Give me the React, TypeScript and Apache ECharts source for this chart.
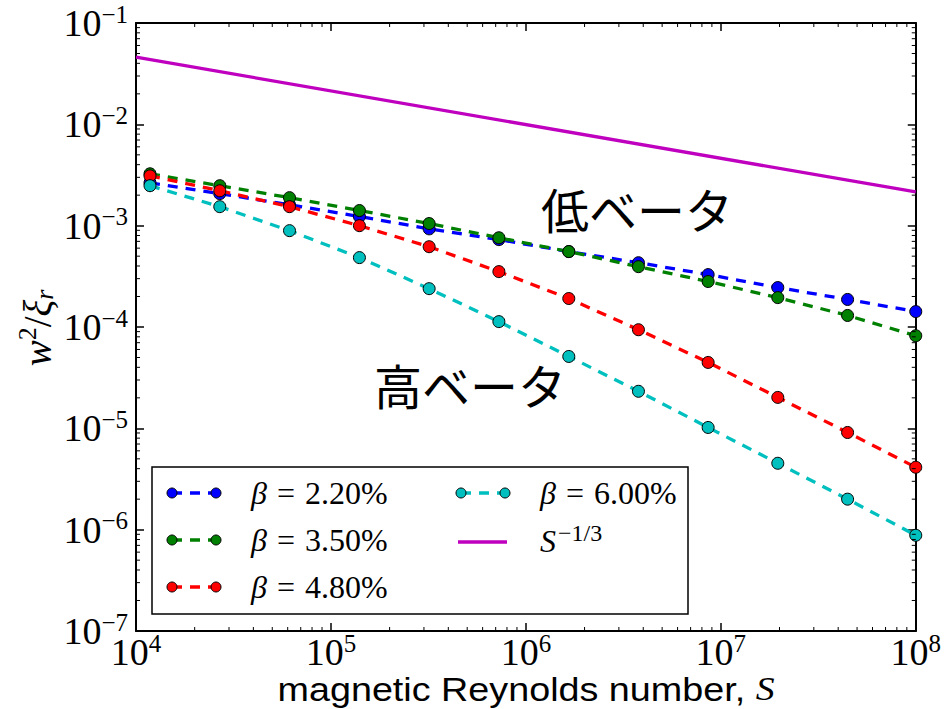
import { useEffect, useRef } from 'react';
import * as echarts from 'echarts';

// Magnetic Reynolds number S at which each run was made
const reynolds = [1.18e4, 2.69e4, 6.13e4, 1.40e5, 3.19e5, 7.27e5, 1.66e6, 3.78e6, 8.61e6, 1.96e7, 4.47e7, 1.0e8];

// w^2 / xi_r for each beta value
const beta220 = [2.65e-3, 2.07e-3, 1.61e-3, 1.23e-3, 9.3e-4, 7.28e-4, 5.55e-4, 4.31e-4, 3.29e-4, 2.45e-4, 1.87e-4, 1.42e-4];
const beta350 = [3.25e-3, 2.48e-3, 1.89e-3, 1.41e-3, 1.05e-3, 7.6e-4, 5.55e-4, 3.94e-4, 2.81e-4, 1.95e-4, 1.30e-4, 8.2e-5];
const beta480 = [3.1e-3, 2.21e-3, 1.54e-3, 1.0e-3, 6.2e-4, 3.52e-4, 1.91e-4, 9.4e-5, 4.47e-5, 2.02e-5, 9.1e-6, 4.13e-6];
const beta600 = [2.48e-3, 1.54e-3, 8.93e-4, 4.84e-4, 2.39e-4, 1.13e-4, 5.12e-5, 2.32e-5, 1.02e-5, 4.52e-6, 2.0e-6, 8.8e-7];

// reference scaling line S^(-1/3)
const scalingS = [1e4, 1e8];
const scalingW = [4.6e-2, 2.15e-3];

const betaLabels = ['2.20%', '3.50%', '4.80%', '6.00%'];
const betaColors = ['#0000ff', '#008000', '#ff0000', '#00bfbf'];
const powerColor = '#bf00bf';

const X_MIN = 1e4;
const X_MAX = 1e8;
const Y_MIN = 1e-7;
const Y_MAX = 1e-1;

const SERIF = 'Liberation Serif, serif';
const SANS = 'Liberation Sans, sans-serif';
const CJK = 'Noto Sans CJK JP, sans-serif';

// full font strings for rich tokens drawn straight by zrender
const serif = (size: number, italic = false) => `${italic ? 'italic ' : ''}${size}px ${SERIF}`;
const sans = (size: number) => `${size}px ${SANS}`;

function minorTicks(lo: number, hi: number): number[] {
  const out: number[] = [];
  for (let e = lo; e < hi; e++) {
    for (let m = 2; m <= 9; m++) out.push(m * Math.pow(10, e));
  }
  return out;
}

function powerLabel(v: number): string {
  const e = Math.round(Math.log10(v));
  const s = e < 0 ? '\u2212' + -e : String(e);
  return `{b|10}{e|${s}}`;
}

const labelRich = {
  b: { fontSize: 38, fontFamily: SERIF, font: serif(38), color: '#000', lineHeight: 28 },
  e: { fontSize: 25, fontFamily: SERIF, font: serif(25), color: '#000', lineHeight: 20, padding: [0, 0, 18, 0] },
};

const DASH = [10, 8];
const LW = 3.3;

export default function App() {
  const ref = useRef<HTMLDivElement>(null);

  useEffect(() => {
    if (!ref.current) return;
    const chart = echarts.init(ref.current, undefined, { renderer: 'svg' });

    const pairs = (ys: number[]) => reynolds.map((x, i) => [x, ys[i]]);
    const betaSets = [beta220, beta350, beta480, beta600];

    const dataSeries = betaSets.map((ys, k) => ({
      type: 'line',
      name: 'beta ' + betaLabels[k],
      data: pairs(ys),
      xAxisIndex: 0,
      yAxisIndex: 0,
      symbol: 'circle',
      symbolSize: 12,
      showSymbol: true,
      lineStyle: { color: betaColors[k], width: LW, type: DASH },
      itemStyle: { color: betaColors[k], borderColor: '#000', borderWidth: 1 },
      z: 3 + k,
      silent: true,
    }));

    const powerSeries = {
      type: 'line',
      name: 'S^-1/3',
      data: scalingS.map((x, i) => [x, scalingW[i]]),
      symbol: 'none',
      lineStyle: { color: powerColor, width: LW },
      z: 8,
      silent: true,
    };

    const tickStyle = { stroke: '#000', lineWidth: 1 };

    const minorX = {
      type: 'custom',
      silent: true,
      clip: false,
      z: 9,
      data: minorTicks(4, 8).map((v) => [v, Y_MIN]),
      renderItem: (_p: any, api: any) => {
        const v = api.value(0);
        const b = api.coord([v, Y_MIN]);
        const t = api.coord([v, Y_MAX]);
        return {
          type: 'group',
          children: [
            { type: 'line', shape: { x1: b[0], y1: b[1], x2: b[0], y2: b[1] - 4 }, style: tickStyle },
            { type: 'line', shape: { x1: t[0], y1: t[1], x2: t[0], y2: t[1] + 4 }, style: tickStyle },
          ],
        };
      },
    };

    const minorY = {
      type: 'custom',
      silent: true,
      clip: false,
      z: 9,
      data: minorTicks(-7, -1).map((v) => [X_MIN, v]),
      renderItem: (_p: any, api: any) => {
        const v = api.value(1);
        const l = api.coord([X_MIN, v]);
        const r = api.coord([X_MAX, v]);
        return {
          type: 'group',
          children: [
            { type: 'line', shape: { x1: l[0], y1: l[1], x2: l[0] + 4, y2: l[1] }, style: tickStyle },
            { type: 'line', shape: { x1: r[0], y1: r[1], x2: r[0] - 4, y2: r[1] }, style: tickStyle },
          ],
        };
      },
    };

    const axisLine = { show: true, onZero: false, lineStyle: { color: '#000', width: 2 } };
    const majorTick = { show: true, inside: true, length: 8, lineStyle: { color: '#000', width: 1.5 } };

    // legend drawn by hand: marker - dash - marker, then the label
    const legendRows = [
      { x: 172, y: 493, color: betaColors[0], text: '{i|β}{q|=}{n|2.20%}' },
      { x: 172, y: 540, color: betaColors[1], text: '{i|β}{q|=}{n|3.50%}' },
      { x: 172, y: 587, color: betaColors[2], text: '{i|β}{q|=}{n|4.80%}' },
      { x: 461, y: 493, color: betaColors[3], text: '{i|β}{q|=}{n|6.00%}' },
    ];
    const legendRich = {
      i: { font: serif(32, true), fontSize: 32, fontFamily: SERIF, fontStyle: 'italic', fill: '#000' },
      q: { font: serif(32), fontSize: 32, fontFamily: SERIF, fill: '#000', padding: [0, 10, 0, 10] },
      n: { font: serif(32), fontSize: 32, fontFamily: SERIF, fill: '#000' },
      e: { font: serif(24), fontSize: 24, fontFamily: SERIF, fill: '#000', padding: [0, 0, 16, 2] },
    };
    const legendEls: any[] = [
      {
        type: 'rect',
        shape: { x: 152, y: 467, width: 536, height: 147 },
        style: { fill: '#fff', stroke: '#000', lineWidth: 1.5 },
        z: 20,
      },
    ];
    legendRows.forEach((r) => {
      legendEls.push({
        type: 'line',
        shape: { x1: r.x, y1: r.y, x2: r.x + 44, y2: r.y },
        style: { stroke: r.color, lineWidth: LW, lineDash: DASH },
        z: 21,
      });
      [r.x, r.x + 44].forEach((cx) =>
        legendEls.push({
          type: 'circle',
          shape: { cx, cy: r.y, r: 5 },
          style: { fill: r.color, stroke: '#000', lineWidth: 1 },
          z: 22,
        })
      );
      legendEls.push({
        type: 'text',
        x: r.x + 79,
        y: r.y,
        style: {
          text: r.text,
          rich: legendRich,
          font: serif(32),
          fill: '#000',
          verticalAlign: 'middle',
          align: 'left',
        },
        z: 22,
      });
    });
    legendEls.push({
      type: 'line',
      shape: { x1: 458, y1: 542, x2: 507, y2: 542 },
      style: { stroke: powerColor, lineWidth: LW },
      z: 21,
    });
    legendEls.push({
      type: 'text',
      x: 540,
      y: 541,
      style: {
        text: '{i|S}{e|\u22121/3}',
        rich: legendRich,
        font: serif(32),
        fill: '#000',
        verticalAlign: 'middle',
        align: 'left',
      },
      z: 22,
    });

    chart.setOption({
      animation: false,
      backgroundColor: '#fff',
      grid: { left: 136, top: 23, width: 782, height: 608, containLabel: false },
      xAxis: [
        {
          type: 'log',
          logBase: 10,
          min: X_MIN,
          max: X_MAX,
          position: 'bottom',
          axisLine,
          axisTick: majorTick,
          splitLine: { show: false },
          axisLabel: {
            show: true,
            margin: 7,
            formatter: powerLabel,
            rich: labelRich,
            fontFamily: SERIF,
            showMinLabel: true,
            showMaxLabel: true,
          },
        },
        {
          type: 'log',
          logBase: 10,
          min: X_MIN,
          max: X_MAX,
          position: 'top',
          axisLine,
          axisTick: majorTick,
          splitLine: { show: false },
          axisLabel: { show: false },
        },
      ],
      yAxis: [
        {
          type: 'log',
          logBase: 10,
          min: Y_MIN,
          max: Y_MAX,
          position: 'left',
          axisLine,
          axisTick: majorTick,
          splitLine: { show: false },
          axisLabel: {
            show: true,
            margin: 8,
            formatter: powerLabel,
            rich: labelRich,
            fontFamily: SERIF,
            showMinLabel: true,
            showMaxLabel: true,
          },
        },
        {
          type: 'log',
          logBase: 10,
          min: Y_MIN,
          max: Y_MAX,
          position: 'right',
          axisLine,
          axisTick: majorTick,
          splitLine: { show: false },
          axisLabel: { show: false },
        },
      ],
      series: [...dataSeries, powerSeries, minorX, minorY],
      graphic: [
        {
          type: 'text',
          x: 637,
          y: 208,
          style: { text: '低ベータ', font: `48px ${CJK}`, fill: '#000', align: 'center', verticalAlign: 'middle' },
          z: 15,
        },
        {
          type: 'text',
          x: 470,
          y: 384,
          style: { text: '高ベータ', font: `48px ${CJK}`, fill: '#000', align: 'center', verticalAlign: 'middle' },
          z: 15,
        },
        {
          type: 'text',
          x: 526,
          y: 689,
          scaleX: 1.11,
          style: {
            text: '{a|magnetic Reynolds number, }{s|S}',
            font: sans(34),
            rich: {
              a: { font: sans(34), fill: '#000', lineHeight: 24 },
              s: { font: serif(34, true), fill: '#000', lineHeight: 24 },
            },
            align: 'center',
            verticalAlign: 'middle',
          },
          z: 15,
        },
        {
          type: 'text',
          x: 37,
          y: 328,
          rotation: Math.PI / 2,
          style: {
            text: '{w|w}{p|2}{d|/}{w|ξ}{r|r}',
            font: serif(38),
            rich: {
              w: { font: serif(39, true), fill: '#000' },
              p: { font: serif(26), fill: '#000', padding: [0, 0, 20, 0] },
              d: { font: serif(39), fill: '#000' },
              r: { font: serif(26, true), fill: '#000', padding: [14, 0, 0, 0] },
            },
            align: 'center',
            verticalAlign: 'middle',
          },
          z: 15,
        },
        ...legendEls,
      ],
    });

    return () => chart.dispose();
  }, []);

  return (
    <div
      ref={ref}
      style={{ position: 'fixed', left: 0, top: 0, width: 944, height: 709, background: '#fff' }}
    />
  );
}
